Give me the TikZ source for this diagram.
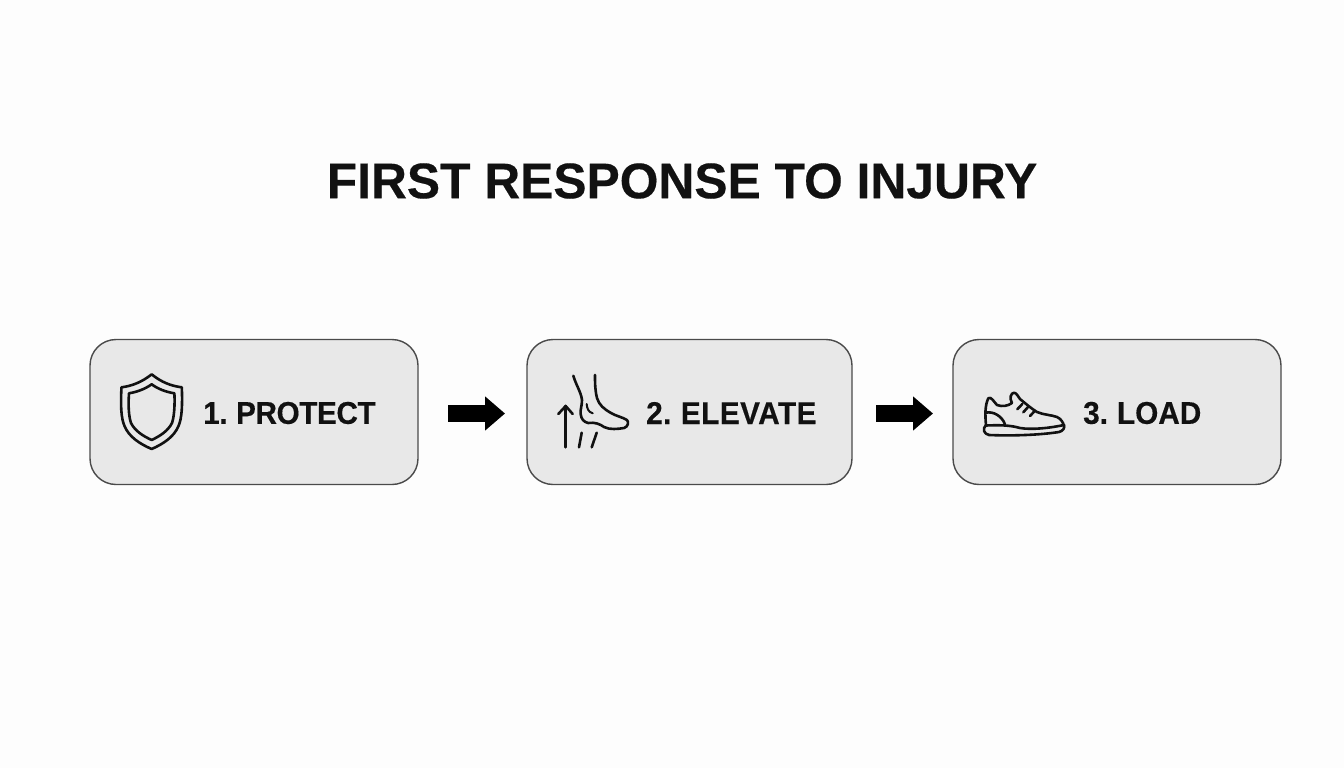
\documentclass[tikz,border=0pt]{standalone}
\usepackage{fontspec}
\setmainfont{Liberation Sans}
\newfontfamily\titlefont[FakeStretch=0.995,FakeBold=0.35,WordSpace=1.0]{Liberation Sans Bold}
\newfontfamily\labelfont[FakeStretch=0.945,FakeBold=0.35,WordSpace=0.75]{Liberation Sans Bold}
\newfontfamily\labelfonttight[FakeStretch=0.945,FakeBold=0.35,WordSpace=0.75,LetterSpace=-1.4]{Liberation Sans Bold}
\newfontfamily\labelfontwide[FakeStretch=0.945,FakeBold=0.35,WordSpace=0.75,LetterSpace=1.4]{Liberation Sans Bold}
\usetikzlibrary{arrows.meta}
\definecolor{bgc}{HTML}{FDFDFD}
\definecolor{boxfill}{HTML}{E8E8E8}
\definecolor{boxline}{HTML}{4A4A4A}
\definecolor{ink}{HTML}{111111}
\tikzset{
  stepbox/.style={draw=boxline,fill=boxfill,line width=1.4pt,rounded corners=26pt,inner sep=0pt,outer sep=0pt},
  steplabel/.style={anchor=west,inner sep=0pt,text=ink,font=\labelfont\fontsize{31.5}{31.5}\selectfont},
  flow/.style={draw=black,line width=16.5pt,-{Triangle[length=20pt,width=33pt]}},
  icon/.style={draw=ink,line width=2.6pt,line cap=round,line join=round},
}
\begin{document}
\begin{tikzpicture}[x=1pt,y=-1pt]
\useasboundingbox[fill=bgc] (0,0) rectangle (1344,768);
\node[inner sep=0pt,text=ink,font=\titlefont\fontsize{50}{50}\selectfont] (title) at (682,181) {FIRST RESPONSE TO INJURY};
\node[stepbox,minimum width=328pt,minimum height=145pt] (b1) at (254,412) {};
\node[stepbox,minimum width=325pt,minimum height=145pt] (b2) at (689.5,412) {};
\node[stepbox,minimum width=328pt,minimum height=145pt] (b3) at (1117,412) {};
\node[steplabel,font=\labelfonttight\fontsize{31.5}{31.5}\selectfont] (t1) at (203,413) {1. PROTECT};
\node[steplabel,font=\labelfontwide\fontsize{31.5}{31.5}\selectfont] (t2) at (646,413) {2. ELEVATE};
\node[steplabel] (t3) at (1083,413) {3. LOAD};
\coordinate (a1s) at (418,413.5); \coordinate (a1e) at (527,413.5);
\coordinate (a2s) at (852,413.5); \coordinate (a2e) at (953,413.5);
\draw[flow,shorten <=30pt,shorten >=22pt] (a1s) -- (a1e);
\draw[flow,shorten <=24pt,shorten >=20pt] (a2s) -- (a2e);
% shield
\draw[icon] (151.7,374.3) .. controls (142,382) and (132,386) .. (121.5,387.3)
  .. controls (120.5,405) and (121,418) .. (124.5,426) .. controls (129,437) and (140,444) .. (151.7,449)
  .. controls (163,444) and (174,437) .. (178.5,426) .. controls (182,418) and (182.5,405) .. (181.8,387.3)
  .. controls (171,386) and (161,382) .. (151.7,374.3) -- cycle;
\draw[icon] (151.7,384.3) .. controls (145,389) and (137,392) .. (129,393.3)
  .. controls (128,407) and (129,417) .. (131,423) .. controls (135,431) and (143,436) .. (151.7,440)
  .. controls (160,436) and (168,431) .. (172,423) .. controls (174,417) and (175,407) .. (174.4,393.3)
  .. controls (166,392) and (158,389) .. (151.7,384.3) -- cycle;
% foot
\draw[icon] (573.3,375.7) .. controls (576,385) and (581,392) .. (582,400)
  .. controls (582,406) and (580,410) .. (580.7,414) .. controls (581,419) and (584,422) .. (588,423)
  .. controls (595,422) and (600,424) .. (604,427) .. controls (610,430) and (618,429) .. (624,428)
  .. controls (628,427) and (629,422) .. (627,420) .. controls (622,417) and (616,416) .. (611,413)
  .. controls (604,409) and (599,405) .. (597,398) .. controls (595,390) and (595,383) .. (595,375);
\draw[icon,line width=2pt] (586.7,404) .. controls (587,408) and (588,412) .. (592.7,413.3);
\draw[icon] (565.7,447.3) -- (565.7,406);
\draw[icon] (558.3,414) -- (565.7,406) -- (572.7,414);
\draw[icon] (581.7,432.7) -- (579,447.3);
\draw[icon] (596.7,432.7) -- (591.7,447.3);
% shoe
\draw[icon] (986,425) .. controls (985,415) and (985,405) .. (988.3,398.3)
  .. controls (991,396) and (994,402) .. (997,405) .. controls (1002,407) and (1008,406) .. (1012,403)
  .. controls (1009,398) and (1011,393) .. (1014,392.7) .. controls (1017,393) and (1018,397) .. (1020,399)
  .. controls (1026,404) and (1032,409) .. (1037,412) .. controls (1044,415) and (1052,415) .. (1057,417)
  .. controls (1061,419) and (1063,422) .. (1064,426);
\draw[icon] (986,425.5) .. controls (998,425) and (1010,425) .. (1020,428) .. controls (1032,430) and (1050,428) .. (1064,425);
\draw[icon] (986,425) .. controls (982,429) and (984,434) .. (989,435) .. controls (1012,436) and (1040,435) .. (1059,432) .. controls (1063,431) and (1065,428) .. (1064,425);
\draw[icon] (986,412.7) .. controls (993,411) and (1002,416) .. (1005,424.3);
\draw[icon] (1017.3,409.3) -- (1022.3,404);
\draw[icon] (1023.3,412.3) -- (1028.3,406.7);
\draw[icon] (1030,416) -- (1035,410.7);
\end{tikzpicture}
\end{document}
